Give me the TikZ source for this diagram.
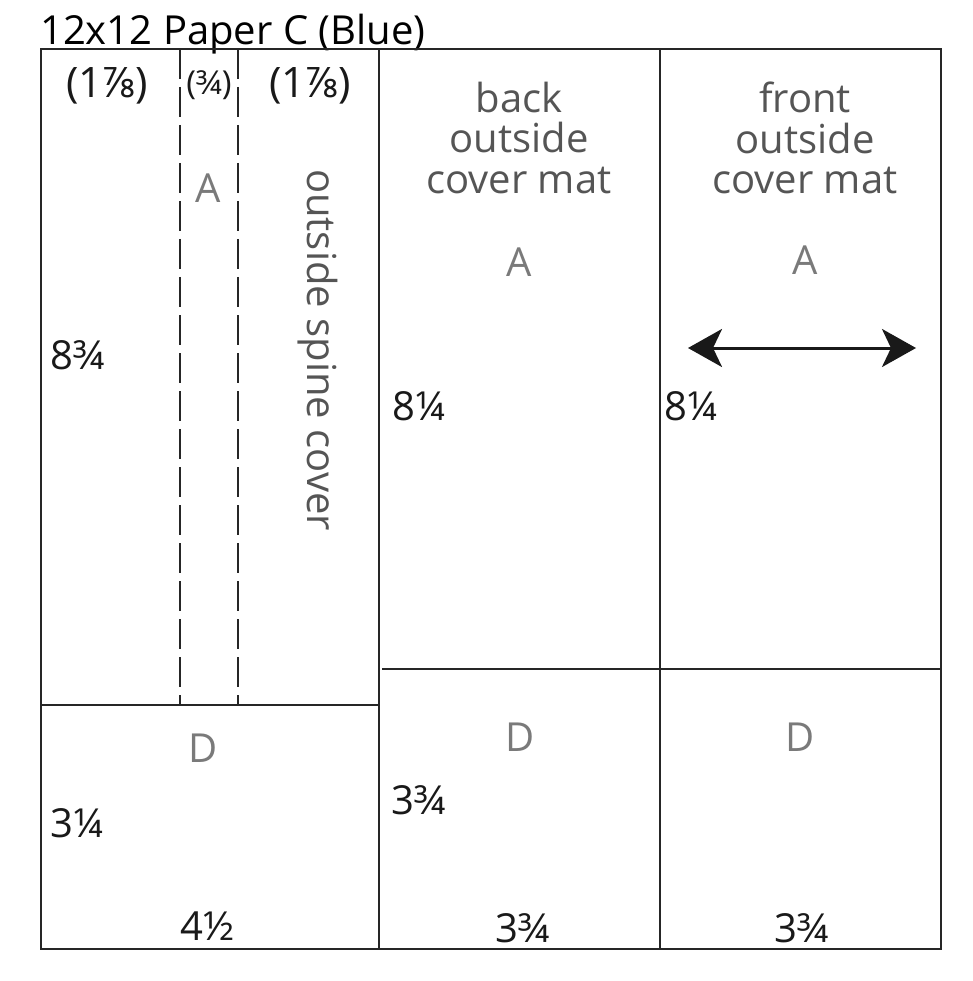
\documentclass[tikz,border=0pt]{standalone}
\usepackage{fontspec}
\setmainfont{Open Sans}
\usetikzlibrary{arrows.meta}
\definecolor{hdr}{HTML}{555555}
\definecolor{lbl}{HTML}{7A7A7A}
\tikzset{
  frame/.style={line width=2pt, draw=black!85},
  fold/.style={line width=2pt, draw=black!85, dash pattern=on 30pt off 8pt},
  dim/.style={inner sep=0pt, font=\fontsize{40}{42}\selectfont, text=black!90},
  pardim/.style={inner sep=0pt, font=\fontsize{42}{44}\selectfont, text=black!90},
  smalldim/.style={inner sep=0pt, font=\fontsize{33}{35}\selectfont, text=black!90},
  piece/.style={inner sep=0pt, font=\fontsize{40}{42}\selectfont, text=lbl},
  header/.style={inner sep=0pt, align=center, font=\fontsize{40}{40.5}\selectfont, text=hdr},
  title/.style={inner sep=0pt, font=\fontsize{40}{42}\selectfont, text=black},
  widthArrow/.style={line width=3pt, draw=black!90, {Stealth[length=34pt,width=38pt,inset=9pt]}-{Stealth[length=34pt,width=38pt,inset=9pt]}}
}
\begin{document}
\begin{tikzpicture}[x=1pt,y=-1pt]
\useasboundingbox (0,0) rectangle (972,981);
% title
\node[title, anchor=base west] (title) at (40,45) {12x12 Paper C (Blue)};
% outer frame and cuts
\draw[frame] (41,49) rectangle (941,949);
\draw[frame] (379,49) -- (379,949);
\draw[frame] (660,49) -- (660,949);
\draw[frame] (41,705) -- (379,705);
\draw[frame] (382,669) -- (941,669);
% fold lines
\draw[fold] (180,49) -- (180,705);
\draw[fold] (238,49) -- (238,705);
% left column texts
\node[pardim] (w1) at (107,86) {(1⅞)};
\node[smalldim] (w2) at (209,85) {(¾)};
\node[pardim] (w3) at (310,86) {(1⅞)};
\node[piece] (pA1) at (208,188) {A};
\node[header, rotate=-90] (spine) at (318,350) {outside spine cover};
\node[dim, anchor=west] (h1) at (50,355) {8¾};
\node[piece] (pD1) at (203,748) {D};
\node[dim, anchor=west] (h2) at (50,823) {3¼};
\node[dim] (wD1) at (208,926) {4½};
% middle column
\node[header] (back) at (519,138) {back\\outside\\cover mat};
\node[piece] (pA2) at (519,262) {A};
\node[dim, anchor=west] (h3) at (392,406) {8¼};
\node[piece] (pD2) at (520,737) {D};
\node[dim, anchor=west] (h4) at (391,800) {3¾};
\node[dim] (wD2) at (523,928) {3¾};
% right column
\node[header] (front) at (805,138) {front\\outside\\cover mat};
\node[piece] (pA3) at (805,260) {A};
\coordinate (arL) at (688,348);
\coordinate (arR) at (916,348);
\draw[widthArrow] (arL) -- (arR);
\node[dim, anchor=west] (h5) at (664,406) {8¼};
\node[piece] (pD3) at (800,737) {D};
\node[dim] (wD3) at (802,928) {3¾};
\end{tikzpicture}
\end{document}
